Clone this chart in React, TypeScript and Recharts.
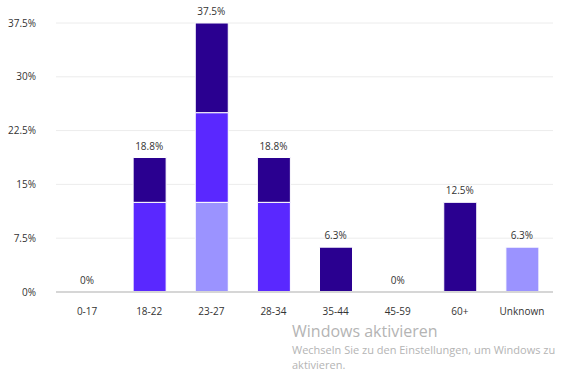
import { Bar, CartesianGrid, ComposedChart, LabelList, Line, XAxis, YAxis } from "recharts"

const ageGroups = ["0-17", "18-22", "23-27", "28-34", "35-44", "45-59", "60+", "Unknown"]
const lightShare = [0, 0, 12.5, 0, 0, 0, 0, 6.25]
const midShare = [0, 12.5, 12.5, 12.5, 0, 0, 0, 0]
const darkShare = [0, 6.25, 12.5, 6.25, 6.25, 0, 12.5, 0]
const yTicks = [0, 7.5, 15, 22.5, 30, 37.5]

const data = ageGroups.map((group, i) => ({
  group,
  light: lightShare[i],
  mid: midShare[i],
  dark: darkShare[i],
  total: lightShare[i] + midShare[i] + darkShare[i],
}))

const fmt = (v: number) => `${Number(v.toFixed(1))}%`

const tickStyle = { fontSize: 10, fill: "#333" }

export default function App() {
  return (
    <div style={{ position: "absolute", left: 0, top: 0, width: 564, height: 376, background: "#fff", fontFamily: "'Open Sans', sans-serif" }}>
      <ComposedChart width={564} height={376} data={data} margin={{ top: 23, right: 11, left: 0, bottom: 54 }}>
        <CartesianGrid vertical={false} stroke="#ececec" />
        <XAxis
          dataKey="group"
          tick={tickStyle}
          tickLine={false}
          axisLine={{ stroke: "#d6d6d6", strokeWidth: 2 }}
          height={30}
          tickMargin={10}
        />
        <YAxis
          domain={[0, 37.5]}
          ticks={yTicks}
          tickFormatter={fmt}
          tick={tickStyle}
          tickLine={false}
          axisLine={false}
          width={56}
          tickMargin={14}
        />
        <Bar dataKey="light" stackId="a" fill="#9b93ff" stroke="#fff" strokeWidth={1} barSize={33} isAnimationActive={false} />
        <Bar dataKey="mid" stackId="a" fill="#5a28ff" stroke="#fff" strokeWidth={1} barSize={33} isAnimationActive={false} />
        <Bar dataKey="dark" stackId="a" fill="#2a0090" stroke="#fff" strokeWidth={1} barSize={33} isAnimationActive={false} />
        {/* invisible line only carries the total labels, so zero columns get "0%" too */}
        <Line dataKey="total" stroke="none" dot={false} activeDot={false} isAnimationActive={false}>
          <LabelList dataKey="total" position="top" offset={8} formatter={(v: any) => fmt(Number(v))} style={{ fontSize: 10, fill: "#333" }} />
        </Line>
      </ComposedChart>
      <div style={{ position: "absolute", left: 292, top: 320, color: "#b4b4b4", fontFamily: "'Open Sans', sans-serif" }}>
        <div style={{ fontSize: 16, lineHeight: "22px" }}>Windows aktivieren</div>
        <div style={{ fontSize: 11, lineHeight: "15px" }}>Wechseln Sie zu den Einstellungen, um Windows zu</div>
        <div style={{ fontSize: 11, lineHeight: "15px" }}>aktivieren.</div>
      </div>
    </div>
  )
}
